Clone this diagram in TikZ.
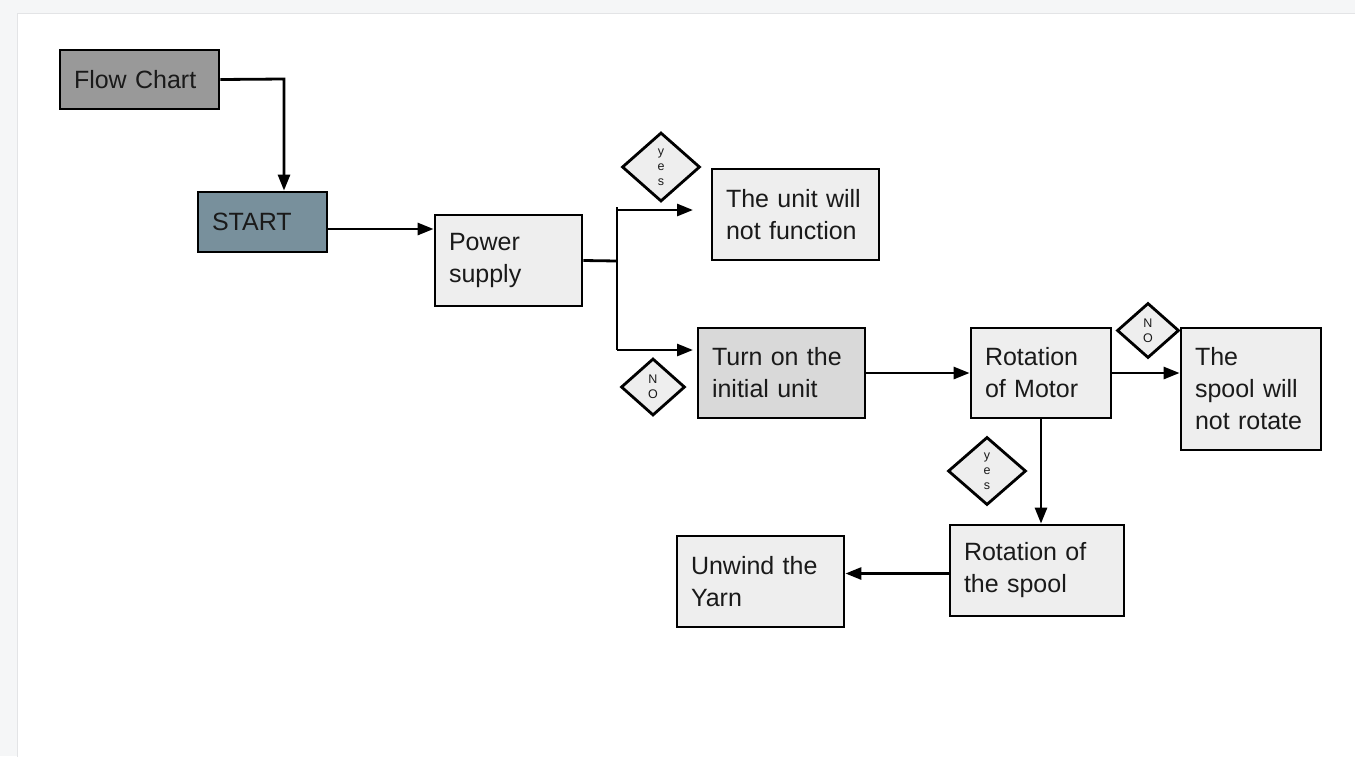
\documentclass[tikz,border=0pt]{standalone}
\usepackage{fontspec}
\setmainfont{Liberation Sans}
\usetikzlibrary{shapes.geometric,arrows.meta}
\definecolor{outerbg}{HTML}{F5F6F7}
\definecolor{edgegray}{HTML}{E3E4E6}
\definecolor{fcgray}{HTML}{999999}
\definecolor{startblue}{HTML}{78909C}
\definecolor{boxlight}{HTML}{EEEEEE}
\definecolor{boxmid}{HTML}{D9D9D9}
\definecolor{txt}{HTML}{1A1A1A}
\tikzset{
  box/.style={draw=black, line width=2.8pt, fill=boxlight, rectangle,
    inner xsep=14pt, inner ysep=0pt, align=left, text=txt,
    font=\fontsize{25}{32}\selectfont},
  dia/.style={draw=black, line width=2.8pt, fill=boxlight, diamond,
    inner sep=0pt, align=center, text=txt,
    font=\fontsize{12.5}{15}\selectfont},
  conn/.style={line width=2.8pt, draw=black},
  arr/.style={conn, -{Triangle[length=16pt,width=12pt]}}
}
\begin{document}
\begin{tikzpicture}[x=1pt,y=-1pt]
\useasboundingbox (0,0) rectangle (1355,756);
\fill[outerbg] (0,0) rectangle (1355,756);
\fill[white] (17,13) rectangle (1360,760);
\draw[edgegray, line width=1pt] (17,760) -- (17,13) -- (1360,13);

% boxes
\node[box, fill=fcgray, minimum height=59pt, text width=131pt] (fc) at (139.5,79.5) {Flow Chart};
\node[box, fill=startblue, minimum height=60pt, text width=101pt] (st) at (262.5,222) {START};
\node[box, minimum height=91pt, text width=119pt] (ps) at (508.5,260.5) {Power\\supply};
\node[box, minimum height=91pt, text width=139pt] (uf) at (795.5,214.5) {The unit will\\not function};
\node[box, fill=boxmid, minimum height=90pt, text width=139pt] (to) at (781.5,373) {Turn on the\\initial unit};
\node[box, minimum height=90pt, text width=112pt] (mo) at (1041,373) {Rotation\\of Motor};
\node[box, minimum height=122pt, text width=112pt] (nr) at (1251,389) {The\\spool will\\not rotate};
\node[box, minimum height=91pt, text width=146pt] (rs) at (1037,570.5) {Rotation of\\the spool};
\node[box, minimum height=91pt, text width=139pt] (uw) at (760.5,581.5) {Unwind the\\Yarn};

% diamonds
\node[dia, minimum width=78pt, minimum height=69pt] (d1) at (661,167) {y\\e\\s};
\node[dia, minimum width=64pt, minimum height=57pt] (d2) at (653,387) {N\\O};
\node[dia, minimum width=62pt, minimum height=55pt] (d3) at (1148,330.5) {N\\O};
\node[dia, minimum width=78pt, minimum height=68pt] (d4) at (987,471) {y\\e\\s};

% connector points
\coordinate (fcturn) at (284,79);
\coordinate (j) at (617,261);
\coordinate (jt) at (617,210);
\coordinate (jtop) at (617,207);
\coordinate (jb) at (617,350);
\coordinate (yesEnd) at (693,210);
\coordinate (noEnd) at (693,350);
\coordinate (stout) at ([yshift=-7pt]st.east);
\coordinate (rsout) at ([yshift=-3pt]rs.west);

% connectors
\draw[arr] (fc.east) -- (fcturn) -- (fcturn |- st.north);
\draw[arr] (stout) -- (ps.west |- stout);
\draw[conn] (ps.east) -- (j);
\draw[conn] (jtop) -- (jb);
\draw[arr] (jt) -- (yesEnd);
\draw[arr] (jb) -- (noEnd);
\draw[arr] (to.east) -- (mo.west);
\draw[arr] (mo.east) -- (nr.west |- mo.east);
\draw[arr] (mo.south) -- (mo.south |- rs.north);
\draw[arr] (rsout) -- (uw.east |- rsout);
\end{tikzpicture}
\end{document}
